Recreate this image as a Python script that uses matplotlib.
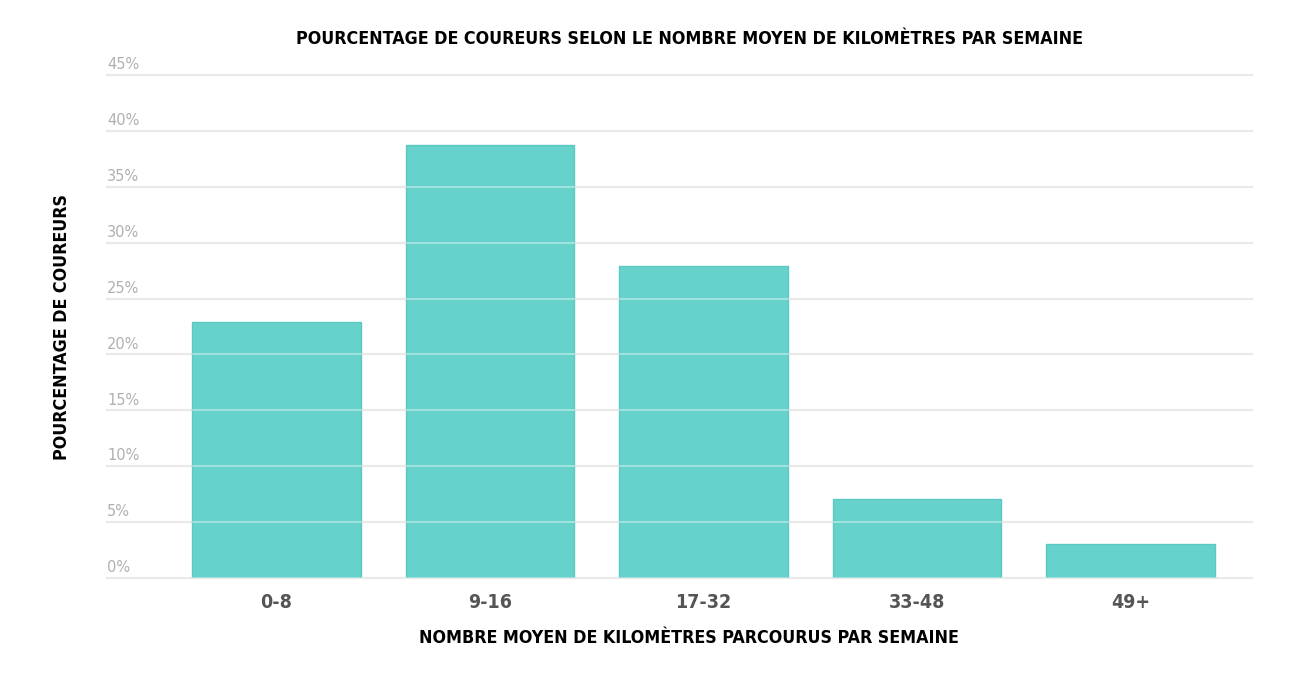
import matplotlib.pyplot as plt
from matplotlib.transforms import blended_transform_factory

# data
categories = ['0-8', '9-16', '17-32', '33-48', '49+']
percents = [22.9, 38.7, 27.9, 7.1, 3.0]
y_ticks = [0, 5, 10, 15, 20, 25, 30, 35, 40, 45]
y_tick_labels = ['0%', '5%', '10%', '15%', '20%', '25%', '30%', '35%', '40%', '45%']

title = 'POURCENTAGE DE COUREURS SELON LE NOMBRE MOYEN DE KILOMÈTRES PAR SEMAINE'
xlabel = 'NOMBRE MOYEN DE KILOMÈTRES PARCOURUS PAR SEMAINE'
ylabel = 'POURCENTAGE DE COUREURS'

bar_color = '#67d2cc'
edge_color = '#5cc8c2'
cond = dict(family='DejaVu Sans', fontstretch='condensed', fontweight='bold')

fig = plt.figure(figsize=(13, 6.8), dpi=100)
ax = fig.add_axes([0.0823, 0.15, 0.8808, 0.7397])

x = list(range(len(categories)))
ax.bar(x, percents, width=0.79, color=bar_color, edgecolor=edge_color,
       linewidth=1, zorder=2)

# grey gridlines under the bars, faint light lines over them
for t in y_ticks:
    ax.axhline(t, color='#dcdcdc', linewidth=1.5, zorder=1, clip_on=False)
    ax.axhline(t, color='white', linewidth=1.2, alpha=0.45, zorder=3, clip_on=False)

ax.set_xlim(-0.794, 4.569)
ax.set_ylim(0, 45)

ax.set_xticks(x)
ax.set_xticklabels(categories, fontsize=14, color='#555555', **cond)
ax.tick_params(axis='x', length=0, pad=11)
ax.set_yticks([])

trans = blended_transform_factory(ax.transAxes, ax.transData)
for t, lab in zip(y_ticks, y_tick_labels):
    ax.text(0.0, t + 0.25, lab, transform=trans, ha='left', va='bottom',
            fontsize=10.5, color='#b0b0b0')

for s in ax.spines.values():
    s.set_visible(False)

fig.text(0.53, 0.942, title, ha='center', va='center', fontsize=12.8, **cond)
fig.text(0.53, 0.062, xlabel, ha='center', va='center', fontsize=12.8, **cond)
fig.text(0.048, 0.519, ylabel, ha='center', va='center', rotation=90,
         fontsize=12.8, **cond)

fig.savefig('out.png', dpi=100, facecolor='white')
